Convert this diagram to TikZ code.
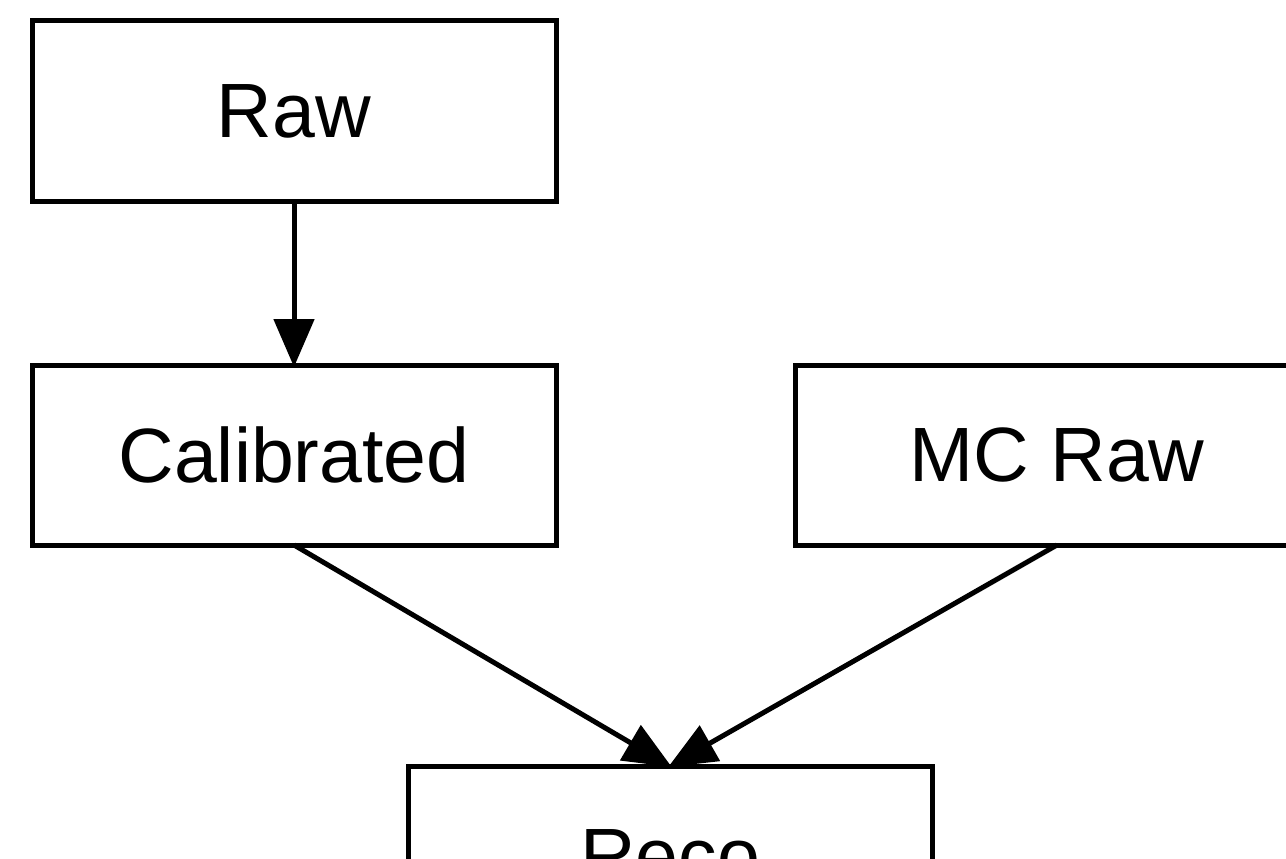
\documentclass[tikz,border=0pt]{standalone}
\usepackage{fontspec}
\setmainfont{Liberation Sans}
\usetikzlibrary{arrows.meta}
\begin{document}
\begin{tikzpicture}[x=1pt,y=-1pt,
  box/.style={draw, line width=5pt, minimum width=524pt, minimum height=180pt, inner sep=0pt, outer sep=0pt, font=\fontsize{77}{90}\selectfont},
  conn/.style={line width=5pt, -{Triangle[length=48pt,width=40pt]}, shorten >=-2pt}]
\useasboundingbox (0,0) rectangle (1286,859);
\clip (0,0) rectangle (1286,859);
\node[box] (raw) at (294,111) {Raw};
\node[box] (cal) at (294,455) {Calibrated};
\node[box] (mc) at (1057,455) {MC Raw};
\node[box] (reco) at (670,856) {Reco};
\draw[conn] (raw.south) -- (cal.north);
\draw[conn] (cal.south) -- (reco.north);
\draw[conn] (mc.south) -- (reco.north);
\end{tikzpicture}
\end{document}
